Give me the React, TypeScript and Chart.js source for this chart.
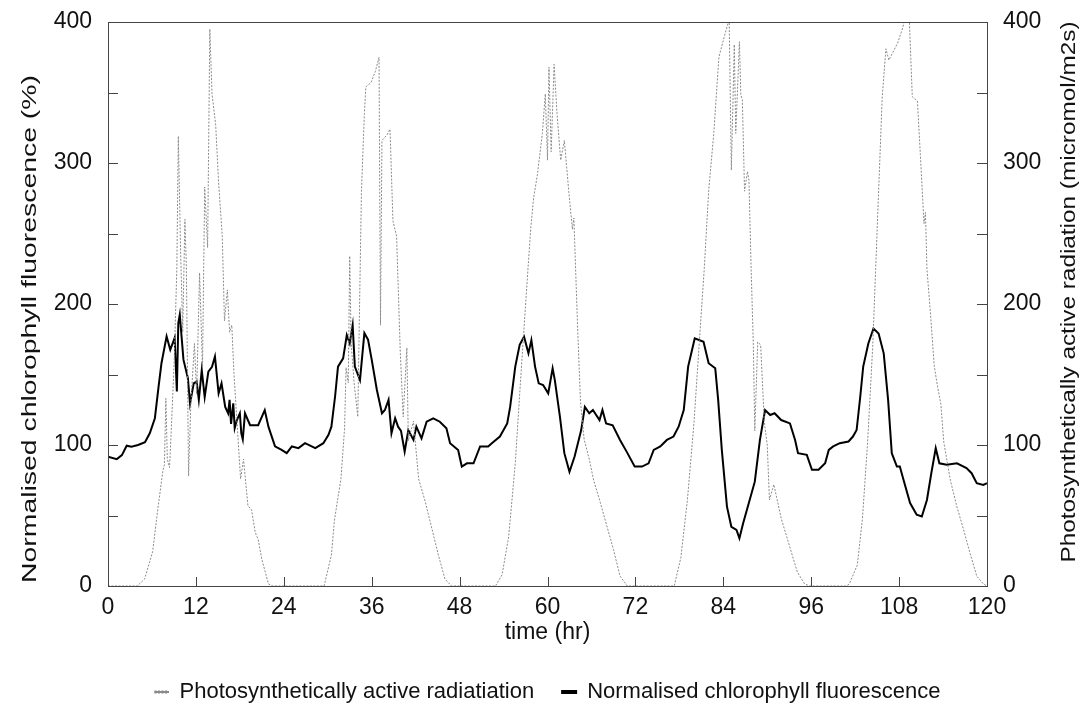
import React, { useEffect, useRef } from "react";
import { Chart, registerables } from "chart.js";

Chart.register(...registerables);

// ---- data ----
const FL_T = [0, 1.2, 1.9, 2.55, 3.2, 4.1, 5.05, 5.7, 6.4, 6.9, 7.3, 8.0, 8.5, 9.1, 9.4, 9.6, 9.8, 10.3, 10.9, 11.2, 11.7, 12.1, 12.4, 12.8, 13.2, 13.7, 14.2, 14.6, 15.1, 15.5, 16.0, 16.4, 16.6, 16.8, 17.1, 17.3, 17.6, 18.0, 18.2, 18.4, 18.7, 19.4, 20.5, 21.4, 21.9, 22.8, 23.7, 24.4, 25.1, 26.0, 26.9, 28.3, 29.4, 30.1, 30.5, 31.0, 31.4, 32.1, 32.6, 33.0, 33.4, 33.7, 34.4, 35.0, 35.5, 36.0, 36.7, 37.4, 37.8, 38.3, 38.7, 39.2, 39.6, 40.0, 40.5, 41.0, 41.7, 42.1, 42.8, 43.5, 44.4, 45.3, 46.2, 46.7, 47.8, 48.3, 49.0, 49.9, 50.8, 51.9, 52.4, 53.5, 54.5, 54.9, 55.6, 56.2, 56.8, 57.4, 57.8, 58.3, 58.8, 59.4, 60.1, 60.7, 61.0, 61.7, 62.3, 63.0, 63.7, 64.6, 65.1, 65.7, 66.2, 67.1, 67.5, 68.0, 68.9, 69.9, 70.8, 71.9, 72.9, 73.8, 74.5, 75.4, 76.3, 77.2, 77.9, 78.6, 79.2, 80.1, 81.3, 82.0, 82.9, 83.3, 83.8, 84.5, 85.1, 85.8, 86.2, 86.7, 87.6, 88.3, 89.0, 89.7, 90.4, 91.0, 91.9, 93.1, 93.8, 94.2, 95.4, 96.1, 97.0, 97.9, 98.4, 99.0, 99.9, 101.1, 101.7, 102.2, 102.7, 103.1, 103.8, 104.5, 105.2, 105.9, 106.5, 107.0, 107.7, 108.1, 108.6, 109.5, 110.4, 111.1, 111.8, 112.4, 113.0, 113.5, 114.5, 115.9, 117.2, 117.9, 118.6, 119.5, 120];
const FL_V = [91.7, 90, 92.8, 99.5, 98.8, 100, 102, 108.3, 119, 141.3, 158, 177, 167.5, 176, 138, 186.5, 192.5, 160.5, 147.5, 129.5, 143.7, 145, 132, 153, 134, 152, 155.5, 162.7, 136.6, 143.7, 127, 122.5, 132, 115, 129.5, 112, 117.7, 122.5, 108.3, 104, 122.5, 114, 114, 124.7, 113, 99, 96.5, 94.2, 99, 97.8, 101.3, 97.8, 101.3, 107.2, 113, 134.4, 155.6, 161.5, 178, 172, 185, 155.6, 146, 179.4, 174.7, 160.5, 139.2, 122.5, 124.8, 132, 108.3, 119, 113, 110, 95.3, 110.6, 103.6, 113, 104.7, 116.5, 118.9, 116.5, 111.8, 101.3, 96.5, 84.7, 87, 87, 99, 99, 101.3, 106, 115.3, 127, 155.6, 171, 176.8, 165, 174.4, 155.6, 143.7, 142.5, 136.6, 154.4, 146, 120, 94.2, 81, 91.8, 110.6, 127, 122.5, 124.8, 117.7, 124.8, 115.3, 114, 103.6, 95.3, 84.7, 84.7, 87, 96.5, 99, 103.6, 106, 113, 124.8, 155.6, 175.6, 173.2, 158, 154.4, 132, 96.4, 56.3, 42, 39.7, 33.8, 44.4, 61, 74, 103.6, 124.8, 121.3, 122.5, 117.7, 115.3, 103.6, 94.2, 93, 82.4, 82.4, 87, 96.5, 99, 101.3, 102.5, 106, 110.6, 134.4, 155.6, 172, 182.6, 179, 165, 132, 94.2, 84.7, 84.7, 75.3, 58.8, 50.5, 49.3, 61, 80, 97.7, 87, 86, 87, 83.6, 80, 72.9, 71.7, 72.9];

const PAR_T = [0, 4.0, 5.0, 6.1, 6.8, 7.5, 7.7, 7.9, 8.1, 8.4, 8.6, 9.05, 9.4, 9.6, 9.9, 10.2, 10.5, 10.7, 11.0, 11.3, 11.8, 12.1, 12.5, 12.9, 13.2, 13.6, 13.9, 14.2, 14.7, 15.1, 15.6, 15.9, 16.3, 16.6, 16.9, 17.2, 17.6, 18.1, 18.5, 19.1, 19.6, 20.1, 20.5, 21.0, 21.9, 22.5, 29.5, 30.5, 30.9, 31.4, 31.8, 32.3, 32.5, 32.8, 33.0, 33.2, 33.6, 34.1, 34.3, 34.6, 35.0, 35.2, 35.9, 36.5, 37.0, 37.2, 37.4, 38.1, 38.5, 38.9, 39.4, 39.9, 40.3, 40.8, 41.0, 41.7, 42.4, 43.3, 44.2, 45.1, 46.0, 46.9, 52.9, 53.8, 54.7, 55.6, 56.3, 57.0, 57.7, 58.1, 58.6, 59.3, 59.7, 60.0, 60.2, 60.5, 60.9, 61.3, 61.8, 62.3, 62.9, 63.4, 63.6, 64.1, 64.5, 65.0, 65.7, 66.3, 67.0, 67.7, 69.0, 69.9, 70.9, 77.3, 78.2, 79.1, 80.0, 80.7, 81.4, 82.0, 82.7, 83.4, 84.1, 84.8, 85.1, 85.5, 85.7, 86.2, 86.4, 86.6, 86.9, 87.3, 87.5, 87.8, 88.1, 88.3, 88.7, 89.1, 89.6, 90.0, 90.3, 90.9, 91.9, 93.0, 94.1, 95.1, 95.8, 100.8, 101.2, 102.3, 103.0, 103.7, 104.4, 104.8, 105.3, 105.7, 106.2, 106.6, 107.1, 107.8, 108.5, 108.9, 109.4, 109.8, 110.5, 110.9, 111.4, 111.6, 111.8, 112.3, 112.8, 113.2, 113.7, 114.1, 115.0, 115.9, 116.8, 117.7, 118.6, 119.5, 120];
const PAR_V = [0, 0, 5, 24.5, 54.5, 82, 86, 133, 90, 84, 106, 161, 226, 319, 240, 180, 260, 226, 78, 128, 172, 136, 222, 155, 283, 240, 395, 349, 327, 286, 248, 188, 210, 180, 185, 150, 117, 76, 90, 57, 54, 38, 33, 19, 1.5, 0, 0, 22, 46, 63, 76, 112, 155, 144, 234, 172, 144, 120, 185, 280, 335, 354, 357, 365, 375, 185, 316, 320, 324, 259, 248, 166, 120, 169, 103, 117, 76, 60, 41, 22, 5, 0, 0, 8, 35, 87, 144, 199, 253, 275, 291, 321, 349, 302, 368, 308, 370, 335, 302, 316, 280, 253, 261, 185, 131, 104, 90, 75, 63, 50, 26, 7, 0, 0, 20, 61, 116, 171, 225, 280, 321, 375, 389, 402, 295, 384, 321, 386, 348, 345, 280, 294, 288, 225, 171, 110, 173, 171, 116, 100, 61, 72, 48, 29, 10, 1.5, 0, 0, 1.5, 15, 48, 102, 170, 225, 293, 347, 381, 373, 378, 385, 396, 405, 401, 347, 344, 306, 257, 265, 225, 192, 156, 143, 129, 102, 75, 56, 40, 23, 7, 1.5, 0];

const X_MIN = 0;
const X_MAX = 120;
const X_STEP = 12;
const Y_MIN = 0;
const Y_MAX = 400;
const Y_LABEL_STEP = 100;
const Y_MINOR_STEP = 50;

const SERIES_NAMES = ["Photosynthetically active radiatiation", "Normalised chlorophyll fluorescence"];
const X_TITLE = "time (hr)";
const Y_LEFT_TITLE = "Normalised chlorophyll fluorescence (%)";
const Y_RIGHT_TITLE = "Photosynthetically active radiation (micromol/m2s)";

const FONT = "'Liberation Sans', Arial, Helvetica, sans-serif";
const INK = "#111";
const FRAME = "#444";

const framePlugin = {
  id: "frameTicks",
  afterDatasetsDraw(chart: any) {
    const { ctx, chartArea } = chart;
    const { left, right, top, bottom } = chartArea;
    const xs = chart.scales.x;
    const yl = chart.scales.y;
    const yr = chart.scales.y2;
    ctx.save();
    ctx.strokeStyle = FRAME;
    ctx.lineWidth = 1;
    ctx.strokeRect(Math.round(left) + 0.5, Math.round(top) + 0.5, Math.round(right - left), Math.round(bottom - top));
    ctx.beginPath();
    for (let v = X_MIN; v <= X_MAX; v += X_STEP) {
      const px = Math.round(xs.getPixelForValue(v)) + 0.5;
      ctx.moveTo(px, bottom);
      ctx.lineTo(px, bottom - 9);
    }
    for (let v = Y_MIN; v <= Y_MAX; v += Y_MINOR_STEP) {
      const pl = Math.round(yl.getPixelForValue(v)) + 0.5;
      ctx.moveTo(left, pl);
      ctx.lineTo(left + 10, pl);
      const pr = Math.round(yr.getPixelForValue(v)) + 0.5;
      ctx.moveTo(right, pr);
      ctx.lineTo(right - 10, pr);
    }
    ctx.stroke();
    ctx.restore();
  },
  afterDraw(chart: any) {
    const { ctx, chartArea } = chart;
    const drawTitle = (text: string, cx: number, cy: number, len: number) => {
      ctx.save();
      ctx.font = `21px ${FONT}`;
      ctx.fillStyle = INK;
      ctx.textAlign = "center";
      ctx.textBaseline = "middle";
      const w = ctx.measureText(text).width;
      ctx.translate(cx, cy);
      ctx.rotate(-Math.PI / 2);
      ctx.scale(len / w, 1);
      ctx.fillText(text, 0, 0);
      ctx.restore();
    };
    drawTitle(Y_LEFT_TITLE, chartArea.left - 78, chartArea.top + 307, 508);
    drawTitle(Y_RIGHT_TITLE, chartArea.right + 82, chartArea.top + 270, 541);
  },
};

export default function App() {
  const ref = useRef<HTMLCanvasElement | null>(null);

  useEffect(() => {
    if (!ref.current) return;
    const parData = PAR_T.map((t, i) => ({ x: t, y: PAR_V[i] }));
    const flData = FL_T.map((t, i) => ({ x: t, y: FL_V[i] }));

    const tickFont = { family: FONT, size: 23 };
    const fitVertical = (w: number) => (s: any) => {
      s.width = w;
      s.paddingTop = 0;
      s.paddingBottom = 0;
    };

    const chart = new Chart(ref.current, {
      type: "line",
      data: {
        datasets: [
          {
            label: SERIES_NAMES[0],
            data: parData,
            yAxisID: "y2",
            borderColor: "#8a8a8a",
            backgroundColor: "#8a8a8a",
            borderWidth: 1,
            borderDash: [2, 1.5],
            pointRadius: 0,
            tension: 0,
          },
          {
            label: SERIES_NAMES[1],
            data: flData,
            yAxisID: "y",
            borderColor: "#000",
            backgroundColor: "#000",
            borderWidth: 2,
            pointRadius: 0,
            tension: 0,
          },
        ],
      },
      options: {
        animation: false,
        responsive: false,
        maintainAspectRatio: false,
        layout: { padding: { top: 22, left: 0, right: 0, bottom: -9 } },
        plugins: {
          tooltip: { enabled: false },
          legend: {
            position: "bottom",
            fullSize: false,
            labels: {
              font: { family: FONT, size: 22 },
              color: INK,
              boxWidth: 14,
              boxHeight: 2,
              padding: 28,
            },
          },
        },
        scales: {
          x: {
            type: "linear",
            min: X_MIN,
            max: X_MAX,
            border: { display: false },
            grid: { display: false, drawTicks: false },
            ticks: { stepSize: X_STEP, font: tickFont, color: INK, padding: 8, maxRotation: 0 },
            title: { display: true, text: X_TITLE, font: { family: FONT, size: 23 }, color: INK, padding: { top: 0, bottom: 7 } },
            afterFit: (s: any) => {
              s.height = 67;
              s.paddingLeft = 0;
              s.paddingRight = 0;
            },
          },
          y: {
            position: "left",
            min: Y_MIN,
            max: Y_MAX,
            border: { display: false },
            grid: { display: false, drawTicks: false },
            ticks: {
              stepSize: Y_MINOR_STEP,
              font: tickFont,
              color: INK,
              padding: 16,
              callback: (v: any) => (Number(v) % Y_LABEL_STEP === 0 ? String(v) : ""),
            },
            afterFit: fitVertical(108),
          },
          y2: {
            position: "right",
            min: Y_MIN,
            max: Y_MAX,
            border: { display: false },
            grid: { display: false, drawTicks: false },
            ticks: {
              stepSize: Y_MINOR_STEP,
              font: tickFont,
              color: INK,
              padding: 16,
              callback: (v: any) => (Number(v) % Y_LABEL_STEP === 0 ? String(v) : ""),
            },
            afterFit: fitVertical(96),
          },
        },
      },
      plugins: [framePlugin],
    } as any);

    return () => chart.destroy();
  }, []);

  return (
    <div style={{ position: "fixed", left: 0, top: 0, width: 1083, height: 704, background: "#fff" }}>
      <canvas ref={ref} width={1083} height={704} style={{ display: "block", width: 1083, height: 704 }} />
    </div>
  );
}
